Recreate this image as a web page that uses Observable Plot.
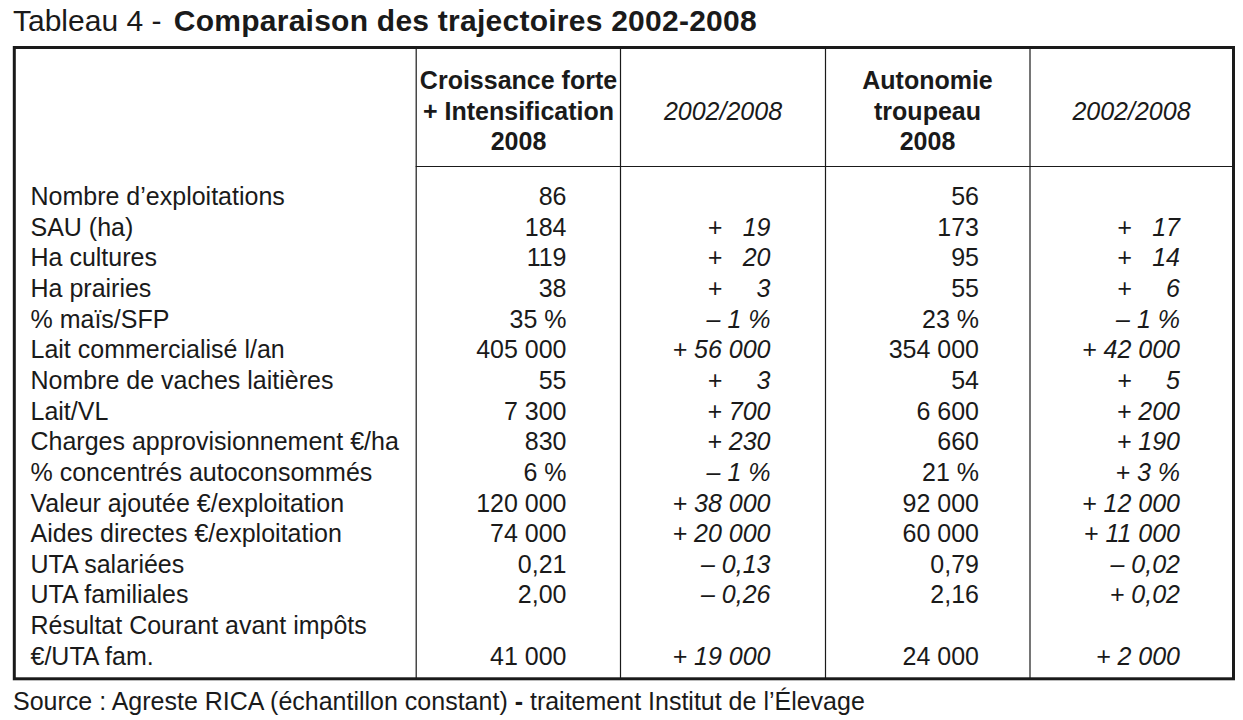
<!DOCTYPE html>
<html><head><meta charset="utf-8">
<script src="https://cdn.jsdelivr.net/npm/d3@7"></script>
<script src="https://cdn.jsdelivr.net/npm/@observablehq/plot@0.6"></script>
<style>
body{margin:0;background:#fff;width:1243px;height:720px;overflow:hidden;font-family:"Liberation Sans",Arial,sans-serif;color:#1a1a1a}
#title{height:46px;line-height:42px;font-size:30px;padding-left:13px;white-space:nowrap}
#title b{margin-left:4px;letter-spacing:0.25px}
#cap{line-height:43px;font-size:25px;padding-left:13px;white-space:nowrap}
#chart svg{display:block;overflow:visible}
</style></head><body>
<div id="title">Tableau 4 - <b>Comparaison des trajectoires 2002-2008</b></div>
<div id="chart"></div>
<div id="cap">Source : Agreste RICA (échantillon constant) <b>-</b> traitement Institut de l’Élevage</div>
<script>
// ---- data ----
const rowLabels = [
  "Nombre d’exploitations", "SAU (ha)", "Ha cultures", "Ha prairies", "% maïs/SFP",
  "Lait commercialisé l/an", "Nombre de vaches laitières", "Lait/VL",
  "Charges approvisionnement €/ha", "% concentrés autoconsommés",
  "Valeur ajoutée €/exploitation", "Aides directes €/exploitation",
  "UTA salariées", "UTA familiales", "Résultat Courant avant impôts\n€/UTA fam."
];
const headers = ["Croissance forte\n+ Intensification\n2008", "2002/2008", "Autonomie\ntroupeau\n2008", "2002/2008"];
const croissance2008 = ["86","184","119","38","35 %","405 000","55","7 300","830","6 %","120 000","74 000","0,21","2,00","41 000"];
const croissanceEvol = ["","+ 19","+ 20","+ 3","– 1 %","+ 56 000","+ 3","+ 700","+ 230","– 1 %","+ 38 000","+ 20 000","– 0,13","– 0,26","+ 19 000"];
const autonomie2008 = ["56","173","95","55","23 %","354 000","54","6 600","660","21 %","92 000","60 000","0,79","2,16","24 000"];
const autonomieEvol = ["","+ 17","+ 14","+ 6","– 1 %","+ 42 000","+ 5","+ 200","+ 190","+ 3 %","+ 12 000","+ 11 000","– 0,02","+ 0,02","+ 2 000"];

// ---- layout ----
const TOP = 46, W = 1243, H = 634, FS = 25;
const ink = "#1a1a1a";
const font = "Liberation Sans, Arial, sans-serif";
const rowStep = 30.65, baseline0 = 204.5;
const rowY = r => baseline0 + r * rowStep - 0.32 * FS - TOP; // text centre, svg px
const py = p => p - TOP;
const box = {x1: 14.3, x2: 1233.5, y1: py(47.5), y2: py(678.8)};
const colLines = [415.7, 620, 825, 1029.5];
const headerLineY = py(166);
const labelX = 30;
const colRight = [566, 770, 978.5, 1179.5];
const colCenter = [518, 722.5, 927, 1131];
const signOffset = 63;

// build cells
const labelCells = [];
rowLabels.forEach((t, i) => {
  t.split("\n").forEach((line, k) => labelCells.push({row: i + k, text: line}));
});
const valueRow = i => (i < 14 ? i : 15);
const plainCells = [], italicCells = [], signCells = [];
[croissance2008, autonomie2008].forEach((arr, j) => {
  arr.forEach((v, i) => plainCells.push({row: valueRow(i), col: j * 2, text: v}));
});
[croissanceEvol, autonomieEvol].forEach((arr, j) => {
  const col = j * 2 + 1;
  arr.forEach((v, i) => {
    if (!v) return;
    const sign = v[0], rest = v.slice(1).trim();
    if (/^\d{1,2}$/.test(rest)) {
      signCells.push({row: valueRow(i), col, text: sign});
      italicCells.push({row: valueRow(i), col, text: rest});
    } else {
      italicCells.push({row: valueRow(i), col, text: v});
    }
  });
});
const boldHeaders = [{col: 0, text: headers[0]}, {col: 2, text: headers[2]}];
const italicHeaders = [{col: 1, text: headers[1]}, {col: 3, text: headers[3]}];
const headerMidY = py(117.5 - 0.32 * FS);
const italicHeaderY = py(119.5 - 0.32 * FS);

const chart = Plot.plot({
  width: W, height: H,
  margin: 0,
  x: {type: "identity", axis: null},
  y: {type: "identity", axis: null},
  style: {fontFamily: font, background: "transparent", overflow: "visible"},
  marks: [
    Plot.ruleX(colLines, {x: d => d, y1: () => box.y1, y2: () => box.y2, stroke: ink, strokeWidth: 1.2}),
    Plot.ruleY([headerLineY], {y: d => d, x1: () => colLines[0], x2: () => box.x2, stroke: ink, strokeWidth: 1.2}),
    Plot.rect([box], {x1: "x1", x2: "x2", y1: "y1", y2: "y2", fill: "none", stroke: ink, strokeWidth: 3}),
    Plot.text(labelCells, {x: () => labelX, y: d => rowY(d.row), text: "text", textAnchor: "start", fontSize: FS, fill: ink, fontFamily: font}),
    Plot.text(plainCells, {x: d => colRight[d.col], y: d => rowY(d.row), text: "text", textAnchor: "end", fontSize: FS, fill: ink, fontFamily: font}),
    Plot.text(italicCells, {x: d => colRight[d.col], y: d => rowY(d.row), text: "text", textAnchor: "end", fontSize: FS, fontStyle: "italic", fill: ink, fontFamily: font}),
    Plot.text(signCells, {x: d => colRight[d.col] - signOffset, y: d => rowY(d.row), text: "text", textAnchor: "start", fontSize: FS, fontStyle: "italic", fill: ink, fontFamily: font}),
    Plot.text(boldHeaders, {x: d => colCenter[d.col], y: () => headerMidY, text: "text", textAnchor: "middle", lineHeight: 1.22, fontSize: FS, fontWeight: "bold", fill: ink, fontFamily: font}),
    Plot.text(italicHeaders, {x: d => colCenter[d.col], y: () => italicHeaderY, text: "text", textAnchor: "middle", fontSize: FS, fontStyle: "italic", fill: ink, fontFamily: font})
  ]
});
document.getElementById("chart").appendChild(chart);
</script>
</body></html>
